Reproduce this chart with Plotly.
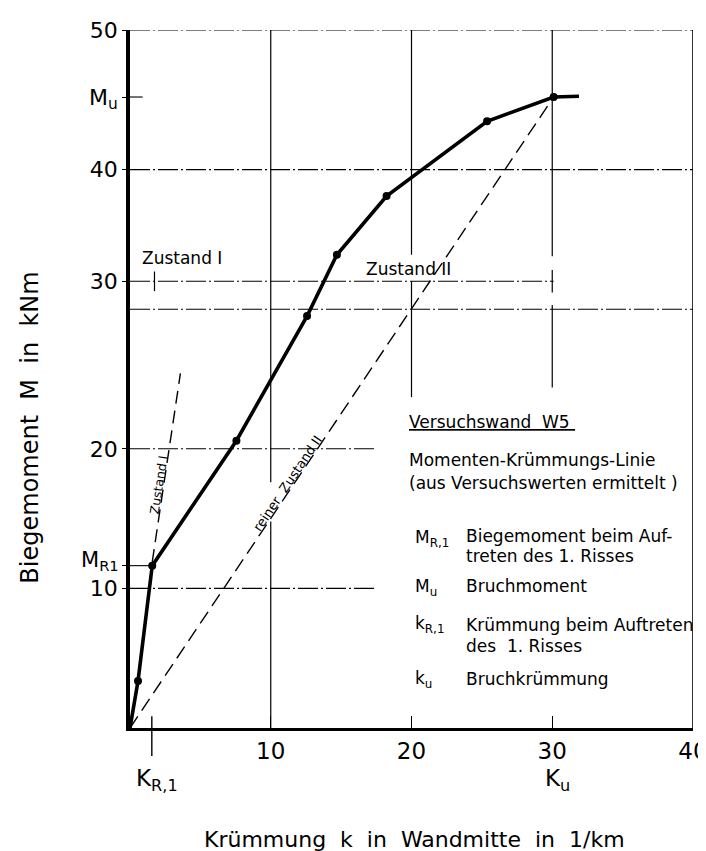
import plotly.graph_objects as go

# ---------------- data ----------------
# Moment-curvature line of test wall W5 (k in 1/km, M in kNm)
curve_k = [0.0, 0.57, 1.58, 7.56, 12.58, 14.70, 18.23, 25.37, 30.10, 31.90]
curve_m = [0.0, 3.37, 11.63, 20.58, 29.51, 33.90, 38.10, 43.46, 45.20, 45.25]
# measured points (dots)
point_k = [0.57, 1.58, 7.56, 12.58, 14.70, 18.23, 25.37, 30.10]
point_m = [3.37, 11.63, 20.58, 29.51, 33.90, 38.10, 43.46, 45.20]
# state I (uncracked) reference line
zustand1_k = [1.58, 3.58]
zustand1_m = [11.90, 25.40]
# pure state II reference line
zustand2_k = [0.0, 30.10]
zustand2_m = [0.0, 45.20]

# characteristic values
k_R1, M_R1 = 1.55, 11.63
k_u, M_u = 30.10, 45.20

# axis ticks
x_tick_vals = [10, 20, 30, 40]
x_tick_text = ["10", "20", "30", "40"]
y_tick_vals = [10, M_R1, 20, 32, 40, M_u, 50]
y_tick_text = ["10", "", "20", "30", "40", "M<sub>u</sub>", "50"]

FONT = "DejaVu Sans"
BLACK = "#000000"

fig = go.Figure()

# reference (dashed) lines
fig.add_trace(go.Scatter(x=zustand1_k, y=zustand1_m, mode="lines",
                         line=dict(color=BLACK, width=1.4, dash="13px,7px"),
                         showlegend=False, hoverinfo="skip"))
fig.add_trace(go.Scatter(x=zustand2_k, y=zustand2_m, mode="lines",
                         line=dict(color=BLACK, width=1.4, dash="14px,7px"),
                         showlegend=False, hoverinfo="skip"))
# moment-curvature line
fig.add_trace(go.Scatter(x=curve_k, y=curve_m, mode="lines",
                         line=dict(color=BLACK, width=3.6),
                         showlegend=False, hoverinfo="skip"))
fig.add_trace(go.Scatter(x=point_k, y=point_m, mode="markers",
                         marker=dict(color=BLACK, size=8),
                         showlegend=False))

# ---------------- guide lines ----------------
DD = "20px,3px,2px,3px"
def hline(y, x0, x1, dash=DD, w=1.1):
    fig.add_shape(type="line", xref="x", yref="y", x0=x0, x1=x1, y0=y, y1=y,
                  line=dict(color=BLACK, width=w, dash=dash))

def vline(x, y0, y1, dash="solid", w=1.2):
    fig.add_shape(type="line", xref="x", yref="y", x0=x, x1=x, y0=y0, y1=y1,
                  line=dict(color=BLACK, width=w, dash=dash))

hline(50, 0, 40)
hline(40, 0, 40)
hline(30, 0, 40)
hline(32, 0, k_u)
hline(20, 0, 17.5)
hline(10, 0, 17.5)
hline(M_u, 0, 0.9, dash="solid")
hline(M_R1, 0, 1.58, dash="solid")

vline(40, 0, 50, w=1.6)
vline(10, 0, 14.8)
vline(10, 17.6, 50)
vline(20, 33.9, 50)
vline(20, 23.7, 32)
vline(30, 33.8, 50)
vline(30, 31.2, 32.8)
vline(30, 24.4, 30.3)
vline(1.74, 31.3, 32.7)

# K_R1 tick crossing the x axis
fig.add_shape(type="line", xref="x", yref="paper", x0=k_R1, x1=k_R1,
              y0=-0.040, y1=0.017, line=dict(color=BLACK, width=1.4))

# ---------------- texts ----------------
def txt(x, y, s, size=17, xanchor="left", angle=0, xref="x", yref="y", yshift=0):
    fig.add_annotation(x=x, y=y, xref=xref, yref=yref, text=s, showarrow=False,
                       xanchor=xanchor, yanchor="middle", textangle=angle,
                       yshift=yshift,
                       font=dict(family=FONT, size=size, color=BLACK))

txt(3.67, 33.7, "Zustand I", size=17, xanchor="center")
txt(19.8, 32.9, "Zustand II", size=17, xanchor="center")
txt(2.0, 17.4, "Zustand I", size=12.5, xanchor="center", angle=-81)
txt(11.2, 17.5, "reiner  Zustand II", size=13, xanchor="center", angle=-56)

# M_R1 label on the y axis (kept slightly above the "10" label)
txt(-0.016, M_R1, "M<sub>R1</sub>", size=21, xanchor="right", xref="paper",
    yshift=5)

# explanation block
txt(19.68, 21.92, "<u>Versuchswand  W5 </u>")
txt(19.68, 19.20, "Momenten-Krümmungs-Linie")
txt(19.68, 17.55, "(aus Versuchswerten ermittelt )")
txt(20.10, 13.60, "M<sub>R,1</sub>")
txt(23.70, 13.75, "Biegemoment beim Auf-")
txt(23.70, 12.32, "treten des 1. Risses")
txt(20.10, 10.03, "M<sub>u</sub>")
txt(23.70, 10.17, "Bruchmoment")
txt(20.10, 7.38, "k<sub>R,1</sub>")
txt(23.70, 7.38, "Krümmung beim Auftreten")
txt(23.70, 5.87, "des  1. Risses")
txt(20.10, 3.44, "k<sub>u</sub>")
txt(23.70, 3.51, "Bruchkrümmung")

# special x labels
txt(k_R1 + 0.4, -0.074, "K<sub>R,1</sub>", size=23, xanchor="center", yref="paper")
txt(k_u + 0.3, -0.074, "K<sub>u</sub>", size=23, xanchor="center", yref="paper")

# axis titles
txt(-0.178, 0.43, "Biegemoment  M  in  kNm", size=24, xanchor="center",
    angle=-90, xref="paper", yref="paper")
txt(0.505, -0.160, "Krümmung\u00a0 k\u00a0 in\u00a0 Wandmitte\u00a0 in\u00a0 1/km",
    size=22, xanchor="center", xref="paper", yref="paper")

fig.update_xaxes(range=[0, 40], tickvals=x_tick_vals, ticktext=x_tick_text,
                 ticks="inside", ticklen=12, tickwidth=1.4, tickcolor=BLACK,
                 showline=True, linewidth=3, linecolor=BLACK,
                 showgrid=False, zeroline=False, automargin=False,
                 tickfont=dict(family=FONT, size=23, color=BLACK))
fig.update_yaxes(range=[0, 50], tickvals=y_tick_vals, ticktext=y_tick_text,
                 ticks="outside", ticklen=4, tickwidth=1.4, tickcolor=BLACK,
                 showline=True, linewidth=3.5, linecolor=BLACK,
                 showgrid=False, zeroline=False, automargin=False,
                 tickfont=dict(family=FONT, size=22, color=BLACK))

fig.update_layout(width=706, height=851, autosize=False,
                  margin=dict(l=122, r=21, t=22, b=131),
                  plot_bgcolor="white", paper_bgcolor="white",
                  showlegend=False)

fig.write_html("out.html")
